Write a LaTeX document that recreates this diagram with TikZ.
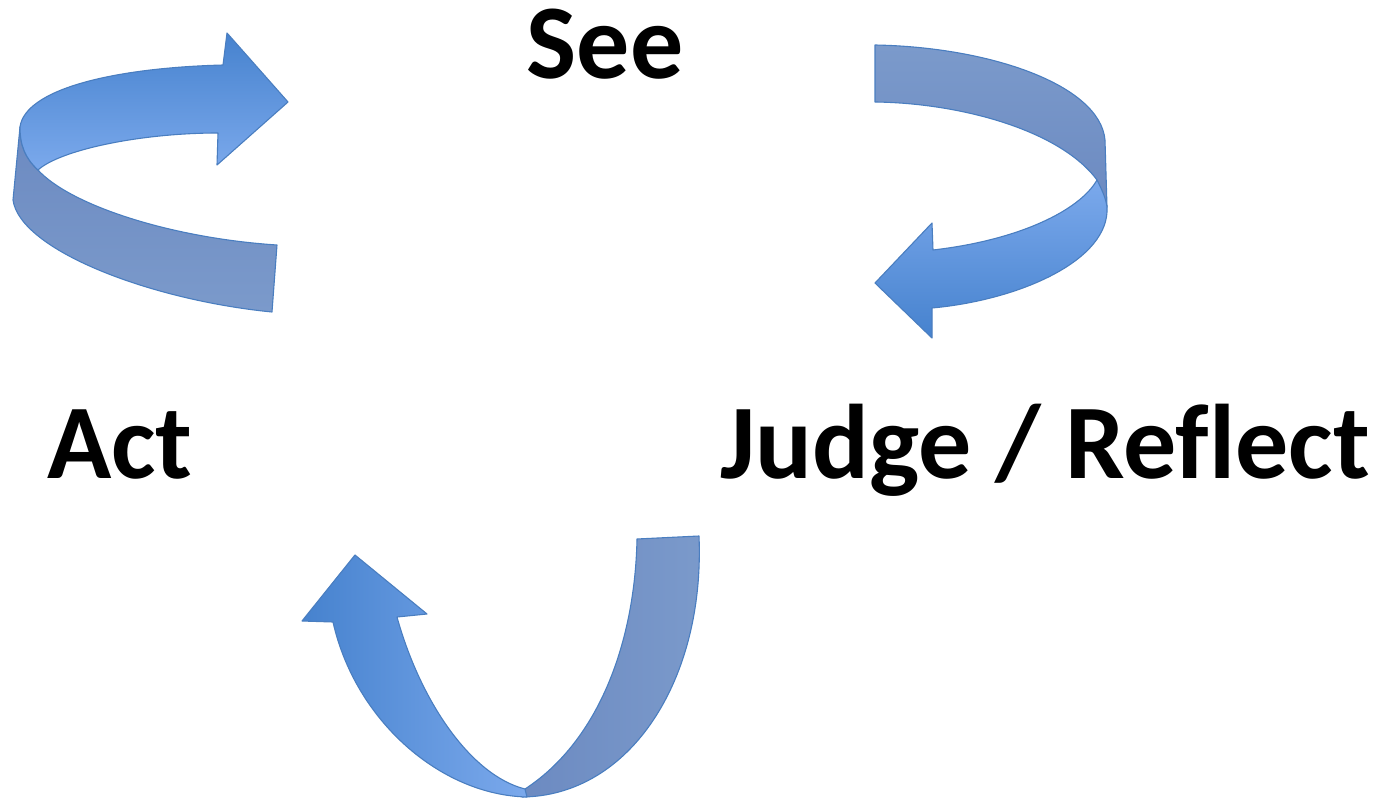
\documentclass[tikz,border=0pt]{standalone}
\usepackage{fontspec}
\setmainfont{Carlito}[Ligatures=NoCommon]
\definecolor{frontdark}{HTML}{4682CE}
\definecolor{frontlight}{HTML}{7BA9EC}
\definecolor{backmain}{HTML}{7B9ACB}
\definecolor{backdark}{HTML}{6C8AC1}
\definecolor{edgeblue}{HTML}{4A7EC0}
\tikzset{
  ribbon/.style={draw=edgeblue, line width=1.1pt, line join=round},
  label/.style={font=\bfseries\fontsize{106}{112}\selectfont, inner sep=0pt, anchor=base, text=black}
}
\begin{document}
\begin{tikzpicture}[x=1pt,y=-1pt]
\useasboundingbox (0,0) rectangle (1390,800);

% Arrow 1: Act -> See (top left)
\path[ribbon, top color=backdark, bottom color=backmain]
  (20,127) -- (13,200) .. controls (20,250) and (150,300) .. (272,312)
  -- (277,245) .. controls (170,238) and (70,205) .. (38,170)
  .. controls (25,158) and (20,145) .. (20,127) -- cycle;
\path[ribbon, top color=frontdark, bottom color=frontlight]
  (20,127) .. controls (25,90) and (110,68) .. (223,65)
  -- (227,33) -- (288,102) -- (217,165) -- (218,133)
  .. controls (140,133) and (60,150) .. (38,170)
  .. controls (25,158) and (20,145) .. (20,127) -- cycle;

% Arrow 2: See -> Judge (top right)
\path[ribbon, top color=backmain, bottom color=backdark]
  (875,45) .. controls (990,47) and (1100,85) .. (1105,140)
  -- (1107,207) .. controls (1104,198) and (1100,188) .. (1097,180)
  .. controls (1060,130) and (960,103) .. (875,102) -- cycle;
\path[ribbon, top color=frontlight, bottom color=frontdark]
  (1097,180) .. controls (1101,188) and (1106,198) .. (1107,207)
  .. controls (1110,260) and (1020,300) .. (932,308)
  -- (932,338) -- (875,283) -- (932,223) -- (933,250)
  .. controls (1020,240) and (1080,210) .. (1097,180) -- cycle;

% Arrow 3: Judge -> Act (bottom)
\path[ribbon, left color=backdark, right color=backmain]
  (637,539) -- (699,536) .. controls (705,680) and (630,796) .. (522,797)
  -- (525,789) .. controls (600,740) and (635,640) .. (637,539) -- cycle;
\path[ribbon, left color=frontdark, right color=frontlight]
  (527,797) .. controls (440,795) and (355,720) .. (333,622)
  -- (302,621) -- (355,555) -- (427,614) -- (397,617)
  .. controls (420,700) and (470,775) .. (525,789) -- cycle;

% Labels
\node[label] (see) at (605,79) {See};
\node[label] (act) at (120,478) {Act};
\node[label] (judge) at (1045,478) {Judge / Reflect};
\end{tikzpicture}
\end{document}
